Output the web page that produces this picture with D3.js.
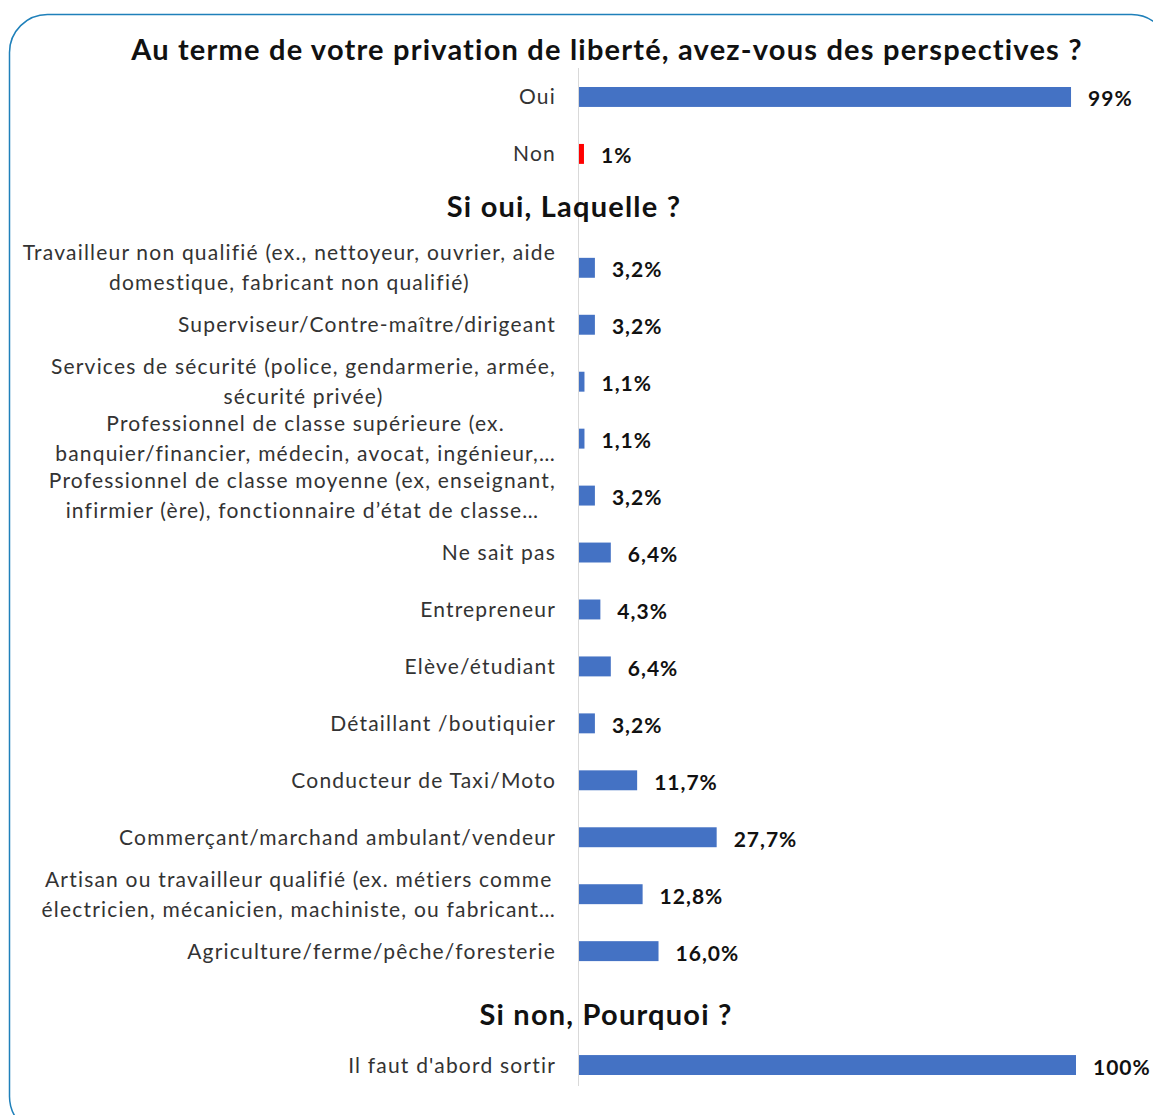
<!DOCTYPE html>
<html>
<head>
<meta charset="utf-8">
<script src="https://cdn.jsdelivr.net/npm/d3@7"></script>
<style>
  body { margin: 0; background: #fff; }
  svg { display: block; }
</style>
</head>
<body>
<script>
var width = 1153;
var height = 1115;

// data
var title = 'Au terme de votre privation de liberté, avez-vous des perspectives ?';
var heading1 = 'Si oui, Laquelle ?';
var heading2 = 'Si non, Pourquoi  ?';

var q1Categories = ['Oui', 'Non'];
var q1Values = [99, 1];
var q1Labels = ['99%', '1%'];

var q2Categories = [
  'Travailleur non qualifié (ex., nettoyeur, ouvrier, aide\ndomestique, fabricant non qualifié)',
  'Superviseur/Contre-maître/dirigeant',
  'Services de sécurité (police, gendarmerie, armée,\nsécurité privée)',
  'Professionnel de classe supérieure (ex.\nbanquier/financier, médecin, avocat, ingénieur,…',
  'Professionnel de classe moyenne (ex, enseignant,\ninfirmier (ère), fonctionnaire d’état de classe…',
  'Ne sait pas',
  'Entrepreneur',
  'Elève/étudiant',
  'Détaillant /boutiquier',
  'Conducteur de Taxi/Moto',
  'Commerçant/marchand ambulant/vendeur',
  'Artisan ou travailleur qualifié (ex. métiers comme\nélectricien, mécanicien, machiniste, ou fabricant…',
  'Agriculture/ferme/pêche/foresterie'
];
var q2Values = [3.2, 3.2, 1.1, 1.1, 3.2, 6.4, 4.3, 6.4, 3.2, 11.7, 27.7, 12.8, 16.0];
var q2Labels = ['3,2%', '3,2%', '1,1%', '1,1%', '3,2%', '6,4%', '4,3%', '6,4%', '3,2%', '11,7%', '27,7%', '12,8%', '16,0%'];

var q3Categories = ["Il faut d'abord sortir"];
var q3Values = [100];
var q3Labels = ['100%'];

// build rows (headings take one slot each)
var rows = [];
q1Categories.forEach(function(c, i) {
  rows.push({ key: 'a' + i, label: c, value: q1Values[i], text: q1Labels[i], color: i == 1 ? '#ff0000' : '#4472c4' });
});
rows.push({ key: 'h1', heading: heading1 });
q2Categories.forEach(function(c, i) {
  rows.push({ key: 'b' + i, label: c, value: q2Values[i], text: q2Labels[i], color: '#4472c4' });
});
rows.push({ key: 'h2', heading: heading2 });
q3Categories.forEach(function(c, i) {
  rows.push({ key: 'c' + i, label: c, value: q3Values[i], text: q3Labels[i], color: '#4472c4' });
});

var svg = d3.select('body').append('svg')
  .attr('width', width)
  .attr('height', height);

// rounded frame
svg.append('rect')
  .attr('x', 9.5)
  .attr('y', 14.5)
  .attr('width', 1160)
  .attr('height', 1120)
  .attr('rx', 38)
  .attr('fill', 'none')
  .attr('stroke', '#1f80ba')
  .attr('stroke-width', 1.5);

var x = d3.scaleLinear().domain([0, 100]).range([579, 1076]);
var y = d3.scaleBand()
  .domain(rows.map(function(d) { return d.key; }))
  .range([68.5, 1093.5])
  .paddingInner(0.65)
  .paddingOuter(0.325);

var font = 'Lato, "Open Sans", sans-serif';

// title
svg.append('text')
  .attr('x', 607)
  .attr('y', 48)
  .attr('text-anchor', 'middle')
  .attr('dominant-baseline', 'central')
  .attr('font-family', font)
  .attr('font-weight', 'bold')
  .attr('font-size', 29)
  .attr('letter-spacing', 1.2)
  .attr('fill', '#111')
  .text(title);

// axis line
svg.append('line')
  .attr('x1', x(0) - 0.5).attr('x2', x(0) - 0.5)
  .attr('y1', 68).attr('y2', 1086)
  .attr('stroke', '#d9d9d9')
  .attr('stroke-width', 1);

var bars = rows.filter(function(d) { return !d.heading; });
var heads = rows.filter(function(d) { return d.heading; });

svg.selectAll('rect.bar').data(bars).enter().append('rect')
  .attr('class', 'bar')
  .attr('x', x(0))
  .attr('y', function(d) { return y(d.key); })
  .attr('width', function(d) { return x(d.value) - x(0); })
  .attr('height', y.bandwidth())
  .attr('fill', function(d) { return d.color; });

svg.selectAll('text.val').data(bars).enter().append('text')
  .attr('class', 'val')
  .attr('x', function(d) { return x(d.value) + 17; })
  .attr('y', function(d) { return y(d.key) + y.bandwidth() / 2 + 1; })
  .attr('dominant-baseline', 'central')
  .attr('font-family', font)
  .attr('font-weight', 'bold')
  .attr('font-size', 21)
  .attr('letter-spacing', 1)
  .attr('fill', '#111')
  .text(function(d) { return d.text; });

// category labels: single lines right-aligned, wrapped ones centred as a block
var labelRight = 556;
var labels = svg.selectAll('text.cat').data(bars).enter().append('text')
  .attr('class', 'cat')
  .attr('font-family', font)
  .attr('font-size', 21)
  .attr('letter-spacing', 1.2)
  .attr('fill', '#333');

labels.each(function(d) {
  var lines = d.label.split('\n');
  var cy = y(d.key) + y.bandwidth() / 2;
  var t = d3.select(this);
  var spans = lines.map(function(l, i) {
    return t.append('tspan')
      .attr('x', labelRight)
      .attr('y', cy + (i - (lines.length - 1) / 2) * 30 - 1)
      .attr('dominant-baseline', 'central')
      .text(l);
  });
  if (lines.length == 1) {
    t.attr('text-anchor', 'end');
  } else {
    var maxW = d3.max(spans, function(s) { return s.node().getComputedTextLength(); });
    t.attr('text-anchor', 'middle');
    spans.forEach(function(s) { s.attr('x', labelRight - maxW / 2); });
  }
});

svg.selectAll('text.head').data(heads).enter().append('text')
  .attr('class', 'head')
  .attr('x', function(d) { return d.key == 'h1' ? 564 : 606; })
  .attr('y', function(d) { return y(d.key) + y.bandwidth() / 2 + (d.key == 'h1' ? -5 : 5); })
  .attr('text-anchor', 'middle')
  .attr('dominant-baseline', 'central')
  .attr('font-family', font)
  .attr('font-weight', 'bold')
  .attr('font-size', 29)
  .attr('letter-spacing', 1.2)
  .attr('fill', '#111')
  .text(function(d) { return d.heading; });
</script>
</body>
</html>
